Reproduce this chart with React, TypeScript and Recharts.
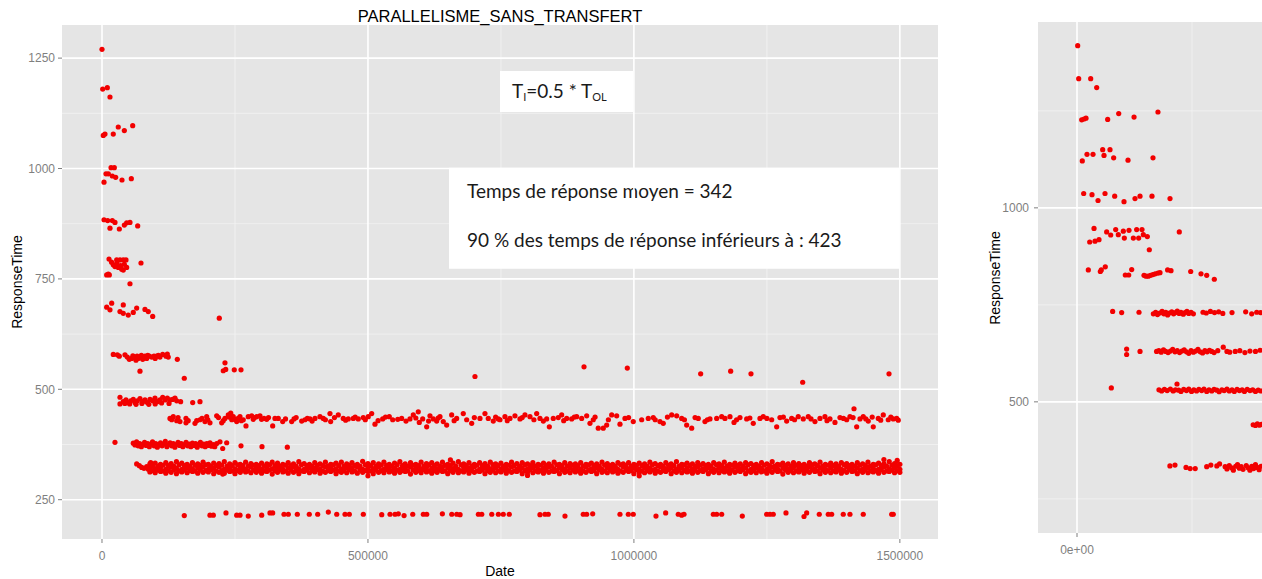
import React from "react";
import {
  ScatterChart,
  Scatter,
  XAxis,
  YAxis,
  CartesianGrid,
  ReferenceLine,
  ReferenceArea,
} from "recharts";

// x values are in thousands (Date), y is ResponseTime

const leftEarly: number[][] = [
  [0, 1270], [1.3, 1180], [10, 1183], [15, 1162], [2.4, 1075], [5.6, 1078], [21.2, 1078], [30.6, 1094], [42, 1086], [57.7, 1097],
  [17, 1002], [23.2, 1002], [7.5, 988], [11.9, 988], [19.4, 983], [25.7, 980], [37.6, 974], [55.1, 977], [3.8, 969],
  [3.8, 884], [10.7, 882], [19.4, 882], [24.4, 878], [15, 865], [32.6, 863], [42, 872], [46.4, 877], [52.6, 878], [67.1, 870],
  [13.2, 795], [27.6, 793], [33.8, 793], [40, 793], [45.1, 793], [21.2, 782], [24.4, 778], [30.6, 776], [37, 772], [46.4, 776],
  [73.3, 786], [8.8, 759], [13.8, 759], [11.9, 761], [40, 770], [52.6, 739], [28, 786], [35, 780], [42, 783], [18, 788],
  [8.8, 686], [18.2, 695], [15, 680], [33.8, 676], [40, 672], [49.4, 668], [58.8, 674], [65.2, 684], [40, 691], [80.8, 681],
  [87, 676], [95.3, 665], [220.5, 661],
];

const band570: number[][] = [
  [21.2, 579], [28.8, 578], [32.5, 575], [43.2, 578], [47.6, 573], [51.3, 568], [55.8, 570], [60.2, 573], [63.9, 566], [68.2, 570],
  [72.8, 573], [76.5, 568], [80.8, 575], [84, 570], [88.9, 575], [93.4, 573], [97.8, 575], [102.8, 575], [109, 573], [114.1, 579],
  [120.3, 575], [124.6, 573], [122.8, 580], [58, 576], [66, 575], [74, 577], [86, 577], [100, 570], [106, 577],
  [71.4, 541], [141.6, 568], [154.7, 525], [231.2, 560], [228, 542], [232.6, 545], [248.7, 544], [261.3, 544],
];

const band470: number[][] = [
  [33.8, 482], [33.8, 467], [40, 472], [45.1, 476], [49.4, 470], [54, 474], [58.8, 477], [62, 470], [66.4, 474], [71.4, 479],
  [76.5, 472], [80.8, 476], [85.2, 470], [90.2, 477], [95.3, 474], [99.6, 480], [104, 472], [109, 476], [114.1, 482], [118.4, 476],
  [122.8, 480], [127.8, 476], [132.9, 477], [137.2, 480], [140.4, 474], [147.8, 472], [170.5, 470], [184.2, 472],
  [43, 468], [52, 467], [64, 466], [75, 468], [88, 466], [100, 467], [112, 469], [126, 468],
];

const band430: number[][] = [
  [127.8, 434], [134, 438], [140.4, 429], [146.6, 427], [157.9, 434], [157.9, 424], [174.8, 423], [178, 429], [184.2, 431], [193.6, 427],
  [196.8, 438], [203, 424], [215.6, 440], [225, 424], [231.2, 434], [237.4, 442], [242, 446], [246.8, 438], [250, 432], [253.2, 427],
  [259.4, 438], [265.6, 431], [270.7, 417], [275, 438], [281.4, 440], [284.4, 432], [290.8, 438], [297, 440], [304.6, 434], [309.6, 432],
  [320.9, 417], [325.2, 434], [331.4, 434], [339.7, 427], [356.6, 427], [361, 433], [375.4, 428], [381.6, 431], [391, 433], [400.4, 434],
  [409.8, 438], [416, 434], [428.6, 445], [429.9, 427], [444.2, 442], [453.6, 434], [463, 433], [472.4, 434], [481.8, 433], [491.2, 436],
  [500.6, 438], [507, 445], [513.2, 421], [527.7, 433], [540.1, 438], [546.5, 431], [563.4, 434], [571.5, 428], [579, 433], [585.2, 442],
  [594.6, 449], [596.5, 425], [602.9, 433], [610.4, 415], [616.6, 440], [622.8, 433], [629.2, 428], [635.4, 438], [641.6, 427], [648, 419],
  [657.4, 442], [666.8, 434], [679.2, 445], [685.6, 431], [695, 423], [710.6, 434], [720, 445], [726.2, 434], [735.6, 428], [745, 433],
  [748.2, 431], [757.6, 438], [767, 434], [776.4, 440], [785.8, 433], [795.2, 442], [804.6, 438], [817.2, 445], [823.4, 434], [829.7, 428],
  [841, 415], [848.4, 434], [857.8, 436], [864.2, 442], [873.6, 434], [883, 433], [892.4, 438], [901.8, 434], [911.2, 440], [917.4, 423],
  [923.6, 431], [933, 412], [942.4, 412], [948.8, 419], [958.2, 442], [967.6, 440], [973.8, 421], [983.2, 434], [998.8, 427], [1014.6, 431],
  [1027, 434], [1036.4, 436], [1049, 427], [1055.2, 423], [1071, 442], [1080.4, 440], [1089.8, 434], [1099.2, 419], [1108.6, 412], [1121, 434],
  [1133.6, 427], [1143, 433], [1155.6, 434], [1171.2, 434], [1180.6, 438], [1188.2, 425], [1199.4, 436], [1212, 433], [1224.4, 423], [1237, 434],
  [1243.2, 438], [1259, 431], [1268.4, 415], [1274.6, 436], [1287.2, 428], [1296.6, 434], [1309, 438], [1318.4, 433], [1327.8, 438], [1340.4, 427],
  [1349.8, 434], [1359.2, 438], [1368.6, 433], [1378, 425], [1387.4, 436], [1400, 431], [1406.2, 438], [1418.8, 415], [1425, 433], [1431.2, 438],
  [1440.6, 428], [1450, 415], [1459.4, 434], [1468.8, 442], [1478.2, 431], [1487.6, 433], [1494, 434],
];

const band430More: number[][] = [
  [131, 431], [143, 436], [162, 429], [188, 434], [199, 431], [219, 436], [228, 429], [239, 437], [244, 431], [256, 434],
  [262, 429], [287, 436], [300, 432], [313, 436], [345, 433], [365, 436], [386, 434], [395, 428], [420, 431], [437, 436],
  [458, 430], [476, 437], [495, 431], [519, 429], [533, 437], [556, 432], [590, 435], [614, 428], [632, 435], [662, 429],
  [700, 436], [740, 437], [762, 429], [790, 436], [812, 431], [836, 433], [868, 429], [888, 437], [927, 437], [952, 431],
  [990, 436], [1040, 431], [1063, 437], [1095, 431], [1115, 436], [1138, 431], [1165, 438], [1193, 431], [1218, 435], [1250, 434],
  [1281, 437], [1302, 431], [1333, 433], [1363, 429], [1394, 434], [1412, 436], [1436, 433], [1448, 437], [1464, 430], [1483, 437],
  [1497, 430],
];

const band375: number[][] = [
  [24.4, 380], [58.8, 378], [62, 374], [65, 381], [68, 372], [71, 377], [74, 370], [77, 375], [80, 380], [83, 373],
  [86, 377], [89, 370], [92, 376], [95, 381], [98, 372], [101, 377], [104, 369], [107, 375], [110, 379], [113, 372],
  [116, 376], [119, 382], [122, 370], [125, 375], [128, 379], [131, 372], [134, 377], [137, 369], [140, 375], [143, 380],
  [146, 373], [149, 377], [152, 370], [155, 375], [158, 380], [161, 372], [164, 376], [167, 370], [170, 378], [173, 373],
  [176, 377], [179, 369], [182, 375], [185, 380], [188, 372], [191, 376], [194, 370], [197, 377], [200, 373], [203, 379],
  [206, 371], [209, 375], [212, 370], [215.6, 377], [221.8, 381], [234.4, 379], [226.9, 366], [261.3, 372], [300.8, 370], [348.4, 369],
];

// dense band around 320: [x, low, mid, high]
const band320: number[][] = [
  [90, 313, 322, 331], [100, 311, 320, 333], [110, 314, 323, 330], [120, 310, 319, 334], [130, 312, 324, 332], [140, 309, 321, 336], [150, 313, 319, 333], [160, 311, 323, 330], [170, 314, 320, 334], [180, 310, 322, 331],
  [190, 312, 324, 335], [200, 313, 319, 330], [210, 309, 321, 333], [220, 312, 324, 332], [230, 310, 319, 336], [240, 314, 322, 331], [250, 309, 320, 334], [260, 312, 323, 330], [270, 313, 319, 335], [280, 311, 324, 332],
  [290, 312, 321, 330], [300, 310, 319, 333], [310, 314, 322, 331], [320, 308, 320, 335], [330, 312, 323, 333], [340, 313, 319, 330], [350, 310, 322, 334], [360, 312, 324, 331], [370, 309, 320, 336], [380, 314, 319, 332],
  [390, 311, 323, 330], [400, 313, 321, 334], [410, 310, 319, 331], [420, 312, 324, 335], [430, 314, 322, 330], [440, 309, 320, 333], [450, 312, 319, 335], [460, 311, 323, 331], [470, 313, 321, 334], [480, 310, 324, 330],
  [490, 312, 319, 337], [500, 314, 322, 332], [510, 309, 320, 334], [520, 312, 324, 331], [530, 311, 319, 335], [540, 313, 323, 330], [550, 310, 321, 333], [560, 312, 319, 336], [570, 314, 322, 331], [580, 308, 324, 334],
  [590, 312, 320, 330], [600, 311, 319, 335], [610, 313, 323, 332], [620, 310, 321, 334], [630, 312, 319, 331], [640, 314, 324, 335], [650, 309, 322, 330], [660, 312, 320, 333], [670, 311, 319, 336], [680, 313, 323, 331],
  [690, 310, 321, 334], [700, 312, 324, 330], [710, 314, 319, 334], [720, 309, 322, 332], [730, 312, 320, 335], [740, 311, 323, 331], [750, 313, 319, 333], [760, 310, 321, 330], [770, 312, 324, 335], [780, 314, 319, 332],
  [790, 309, 322, 334], [800, 312, 320, 331], [810, 311, 323, 334], [820, 313, 319, 330], [830, 310, 321, 333], [840, 312, 324, 331], [850, 314, 320, 335], [860, 309, 322, 330], [870, 312, 319, 334], [880, 311, 323, 332],
  [890, 313, 321, 331], [900, 310, 319, 334], [910, 312, 324, 330], [920, 314, 320, 333], [930, 309, 322, 331], [940, 312, 319, 335], [950, 311, 323, 332], [960, 313, 321, 330], [970, 310, 319, 334], [980, 312, 324, 331],
  [990, 314, 320, 334], [1000, 309, 322, 330], [1010, 312, 319, 333], [1020, 311, 323, 331], [1030, 313, 321, 335], [1040, 310, 319, 332], [1050, 312, 324, 330], [1060, 314, 320, 334], [1070, 309, 322, 331], [1080, 312, 319, 336],
  [1090, 311, 323, 330], [1100, 313, 321, 333], [1110, 310, 319, 331], [1120, 312, 324, 334], [1130, 314, 320, 332], [1140, 309, 322, 330], [1150, 312, 319, 334], [1160, 311, 323, 331], [1170, 313, 321, 335], [1180, 310, 319, 330],
  [1190, 312, 324, 333], [1200, 314, 320, 331], [1210, 309, 322, 334], [1220, 312, 319, 332], [1230, 311, 323, 330], [1240, 313, 321, 334], [1250, 310, 319, 331], [1260, 312, 324, 336], [1270, 314, 320, 330], [1280, 308, 322, 333],
  [1290, 312, 319, 331], [1300, 311, 323, 334], [1310, 313, 321, 332], [1320, 310, 319, 330], [1330, 312, 324, 334], [1340, 314, 320, 331], [1350, 309, 322, 335], [1360, 312, 319, 330], [1370, 311, 323, 333], [1380, 313, 321, 331],
  [1390, 310, 319, 334], [1400, 312, 324, 332], [1410, 314, 320, 330], [1420, 309, 322, 334], [1430, 312, 319, 331], [1440, 311, 323, 335], [1450, 313, 321, 330], [1460, 310, 319, 333], [1470, 312, 324, 331], [1480, 314, 320, 336],
  [1490, 311, 322, 332], [1500, 312, 319, 330],
];

// second, offset set of columns in the dense band: [x, low, high]
const band320b: number[][] = [
  [95, 316, 327], [105, 317, 326], [115, 315, 328], [125, 316, 327], [135, 318, 326], [145, 315, 329], [155, 317, 327], [165, 316, 326], [175, 315, 328], [185, 317, 327],
  [195, 316, 329], [205, 318, 326], [215, 315, 327], [225, 316, 328], [235, 317, 326], [245, 315, 327], [255, 316, 329], [265, 318, 327], [275, 315, 326], [285, 317, 328],
  [295, 316, 327], [305, 315, 326], [315, 317, 329], [325, 316, 327], [335, 318, 326], [345, 315, 328], [355, 317, 327], [365, 316, 326], [375, 315, 329], [385, 317, 327],
  [395, 316, 326], [405, 318, 328], [415, 315, 327], [425, 316, 326], [435, 317, 329], [445, 315, 327], [455, 316, 326], [465, 318, 328], [475, 315, 327], [485, 317, 326],
  [495, 316, 329], [505, 315, 327], [515, 317, 326], [525, 316, 328], [535, 318, 327], [545, 315, 326], [555, 317, 329], [565, 316, 327], [575, 315, 326], [585, 317, 328],
  [595, 316, 327], [605, 318, 326], [615, 315, 329], [625, 316, 327], [635, 317, 326], [645, 315, 328], [655, 316, 327], [665, 318, 326], [675, 315, 329], [685, 317, 327],
  [695, 316, 326], [705, 315, 328], [715, 317, 327], [725, 316, 326], [735, 318, 329], [745, 315, 327], [755, 317, 326], [765, 316, 328], [775, 315, 327], [785, 317, 326],
  [795, 316, 329], [805, 318, 327], [815, 315, 326], [825, 316, 328], [835, 317, 327], [845, 315, 326], [855, 316, 329], [865, 318, 327], [875, 315, 326], [885, 317, 328],
  [895, 316, 327], [905, 315, 326], [915, 317, 329], [925, 316, 327], [935, 318, 326], [945, 315, 328], [955, 317, 327], [965, 316, 326], [975, 315, 329], [985, 317, 327],
  [995, 316, 326], [1005, 318, 328], [1015, 315, 327], [1025, 316, 326], [1035, 317, 329], [1045, 315, 327], [1055, 316, 326], [1065, 318, 328], [1075, 315, 327], [1085, 317, 326],
  [1095, 316, 329], [1105, 315, 327], [1115, 317, 326], [1125, 316, 328], [1135, 318, 327], [1145, 315, 326], [1155, 317, 329], [1165, 316, 327], [1175, 315, 326], [1185, 317, 328],
  [1195, 316, 327], [1205, 318, 326], [1215, 315, 329], [1225, 316, 327], [1235, 317, 326], [1245, 315, 328], [1255, 316, 327], [1265, 318, 326], [1275, 315, 329], [1285, 317, 327],
  [1295, 316, 326], [1305, 315, 328], [1315, 317, 327], [1325, 316, 326], [1335, 318, 329], [1345, 315, 327], [1355, 317, 326], [1365, 316, 328], [1375, 315, 327], [1385, 317, 326],
  [1395, 316, 329], [1405, 318, 327], [1415, 315, 326], [1425, 316, 328], [1435, 317, 327], [1445, 315, 326], [1455, 316, 329], [1465, 318, 327], [1475, 315, 326], [1485, 317, 328],
  [1495, 316, 327],
];

const band320Extra: number[][] = [
  [65.2, 331], [70.2, 327], [74.6, 323], [79, 321], [84, 325], [87, 319], [91.6, 334],
  [227, 308], [500, 304], [655, 340], [800, 305], [1010, 304], [1470, 341], [1495, 339],
];

const band215: number[][] = [
  [154.7, 214], [203, 215], [209.3, 215], [233.1, 220], [253.2, 215], [259.4, 215], [275, 213], [300.2, 215], [315.8, 220], [320.9, 220],
  [342.2, 217], [350.3, 217], [367.2, 217], [389.7, 217], [405.5, 217], [425.5, 222], [441.3, 217], [456.9, 217], [465, 217], [491.3, 217],
  [525.9, 216], [541.5, 217], [550.9, 217], [557.1, 218], [567.9, 214], [584.2, 217], [604.1, 217], [610.5, 217], [639.9, 218], [657.6, 217],
  [667, 217], [673.2, 216], [707.6, 217], [714, 217], [732.8, 217], [745.2, 217], [754.4, 217], [765.7, 217], [823.4, 216], [832.8, 217],
  [839, 217], [870.4, 213], [904.8, 217], [911.2, 217], [922.5, 218], [973.8, 217], [989.5, 217], [998.8, 217], [1041.5, 213], [1059.7, 220],
  [1083.4, 217], [1089.8, 215], [1094.2, 217], [1149.3, 217], [1155.6, 217], [1165, 217], [1203.8, 213], [1249.6, 217], [1255.8, 217], [1262, 217],
  [1285.9, 220], [1319.8, 212], [1324.8, 220], [1348.5, 217], [1365.4, 217], [1371.8, 217], [1393.6, 217], [1406.2, 217], [1431.2, 217], [1484.6, 217],
  [1487.6, 217],
];

const outliers: number[][] = [
  [701.2, 529], [906.2, 551], [987.6, 548], [1125.5, 535], [1181.9, 541], [1220.1, 535], [1317.3, 516], [1479.6, 535], [1413.8, 456],
];

// right (cropped) panel
const rightEarly: number[][] = [
  [1.5, 1418], [3.7, 1333], [29.8, 1333], [42.8, 1310], [10.2, 1227], [15.2, 1229], [19.6, 1231], [66.7, 1228], [90.7, 1243], [124, 1234], [176, 1247],
  [11.5, 1121], [21.7, 1138], [34.8, 1138], [55.8, 1150], [71.7, 1150], [58.7, 1135], [79.7, 1129], [110.9, 1123], [165.2, 1129],
  [14.5, 1037], [32.6, 1034], [45.7, 1019], [60.9, 1037], [81.9, 1030], [102.2, 1016], [126.1, 1024], [137, 1030], [163, 1030], [202.2, 1024],
  [37, 947], [27.6, 912], [39.1, 914], [47.8, 918], [64.5, 938], [73.3, 930], [84.1, 944], [89.8, 931], [100.7, 940], [102.9, 922],
  [113, 942], [122.5, 922], [129.7, 944], [134.1, 922], [141.3, 944], [144.2, 931], [152.9, 926], [157.2, 892], [222.4, 938],
  [24.6, 840], [50.7, 836], [52.8, 840], [61.5, 848], [105, 827], [112.4, 827], [118.9, 841], [145.7, 826], [150, 824], [155, 824],
  [160, 826], [165, 828], [170, 830], [176, 832], [180.4, 833], [197, 840], [204.4, 838], [247.2, 836], [269.6, 830], [282, 826], [298.5, 816],
];

const right730: number[][] = [
  [77.5, 733], [97.1, 730], [134.8, 731], [166, 727], [171, 731], [175, 725], [180, 729], [185, 733], [189, 727], [193, 731],
  [197, 724], [201, 729], [206, 732], [210, 727], [214, 730], [218, 734], [222, 728], [226, 731], [231, 726], [235, 730],
  [239, 733], [243, 728], [248, 731], [253, 727], [274, 731], [281, 729], [290, 733], [299, 730], [308, 732], [317, 728],
  [337, 730], [366.7, 732], [379.8, 727], [390.7, 731], [399, 730],
];

const right630: number[][] = [
  [107.9, 636], [107.9, 622], [137, 630], [173, 630], [178, 632], [183, 628], [188, 634], [193, 630], [198, 627], [203, 631],
  [208, 635], [213, 629], [218, 632], [223, 627], [228, 631], [233, 634], [238, 629], [243, 625], [248, 632], [253, 628],
  [258, 631], [263, 635], [268, 629], [273, 626], [278, 632], [283, 629], [288, 633], [293, 630], [298, 627], [306, 632],
  [318, 641], [326, 630], [332, 628], [344, 630], [354, 632], [365, 627], [376, 631], [388, 630], [398, 633],
];

const right530: number[][] = [
  [74.6, 536], [178.2, 531], [184, 528], [190, 532], [196, 529], [203, 533], [209, 528], [214, 531], [217.4, 546], [221, 530],
  [226, 527], [232, 532], [238, 529], [243, 533], [249, 527], [254, 531], [260, 528], [265, 532], [271, 529], [276, 533],
  [282, 527], [287, 531], [293, 528], [298, 532], [304, 530], [309, 526], [315, 531], [320, 529], [326, 533], [331, 528],
  [337, 531], [342, 527], [348, 532], [353, 529], [359, 531], [364, 527], [370, 532], [376, 529], [382, 531], [388, 527],
  [394, 530], [400, 528],
];

const right440: number[][] = [
  [383, 441], [388, 439], [392, 443], [397, 440], [401, 442],
];

const right335: number[][] = [
  [202, 335], [213, 337], [237, 331], [246, 328], [257, 328], [282, 333], [291, 337], [304, 335], [310, 340], [322, 333],
  [326, 327], [331, 336], [336, 330], [340, 324], [345, 334], [349, 338], [353, 329], [357, 333], [361, 326], [368, 336],
  [372, 330], [376, 324], [380, 334], [384, 328], [388, 338], [392, 331], [396, 325], [400, 334],
];

const leftXTicks = [0, 500000, 1000000, 1500000];
const leftXMinor = [250000, 750000, 1250000];
const leftYTicks = [250, 500, 750, 1000, 1250];
const leftYMinor = [375, 625, 875, 1125];
const rightXTicks = [0];
const rightXMinor = [250000];
const rightYTicks = [500, 1000];
const rightYMinor = [250, 750, 1250];

const toPts = (rows: number[][]) =>
  rows.flatMap(([x, ...ys]) => ys.map((y) => ({ x: x * 1000, y })));

const leftData = [
  ...toPts(leftEarly),
  ...toPts(band570),
  ...toPts(band470),
  ...toPts(band430),
  ...toPts(band430More),
  ...toPts(band375),
  ...toPts(band320),
  ...toPts(band320b),
  ...toPts(band320Extra),
  ...toPts(band215),
  ...toPts(outliers),
];

const rightData = [
  ...toPts(rightEarly),
  ...toPts(right730),
  ...toPts(right630),
  ...toPts(right530),
  ...toPts(right440),
  ...toPts(right335),
];

const RED = "#F20000";
const Dot = (p: any) => <circle cx={p.cx} cy={p.cy} r={2.6} fill={RED} />;

const tickStyle = { fill: "#7F7F7F", fontSize: 12, fontFamily: "Liberation Sans, Arial, sans-serif" };
const tickLine = { stroke: "#7F7F7F" };

const statsLabel = (props: any) => {
  const vb = props.viewBox;
  const st = { fontFamily: "Lato, sans-serif", fontSize: 19, fill: "#1a1a1a" };
  return (
    <g>
      <text x={vb.x + 18} y={vb.y + 30} style={st}>Temps de réponse moyen = 342</text>
      <text x={vb.x + 18} y={vb.y + 79} style={st}>90 % des temps de réponse inférieurs à : 423</text>
    </g>
  );
};

const ratioLabel = (props: any) => {
  const vb = props.viewBox;
  return (
    <text x={vb.x + 12} y={vb.y + 27} style={{ fontFamily: "Lato, sans-serif", fontSize: 19, fill: "#1a1a1a" }}>
      T<tspan fontSize={11} dy={3}>I</tspan>
      <tspan dy={-3}>=0.5 * T</tspan>
      <tspan fontSize={11} dy={3}>OL</tspan>
    </text>
  );
};

export default function App() {
  return (
    <div style={{ position: "absolute", left: 0, top: 0, width: 1262, height: 579, background: "#fff", overflow: "hidden" }}>
      <div style={{ position: "absolute", left: 0, top: 0 }}>
        <ScatterChart width={945} height={579} margin={{ top: 25, right: 7, bottom: 0, left: 0 }}>
          <CartesianGrid
            fill="#E5E5E5"
            stroke="#F2F2F2"
            strokeWidth={0.8}
            horizontalValues={leftYMinor}
            verticalValues={leftXMinor}
          />
          {leftXTicks.map((v) => (
            <ReferenceLine key={"vx" + v} x={v} stroke="#fff" strokeWidth={1.6} />
          ))}
          {leftYTicks.map((v) => (
            <ReferenceLine key={"hy" + v} y={v} stroke="#fff" strokeWidth={1.6} />
          ))}
          <XAxis
            dataKey="x"
            type="number"
            domain={[-75200, 1571700]}
            ticks={leftXTicks}
            allowDataOverflow
            axisLine={false}
            tickLine={tickLine}
            tickSize={4}
            tickMargin={8}
            tick={tickStyle}
            height={40}
            tickFormatter={(v: number) => String(v)}
          />
          <YAxis
            dataKey="y"
            type="number"
            domain={[161, 1325]}
            ticks={leftYTicks}
            allowDataOverflow
            axisLine={false}
            tickLine={tickLine}
            tickSize={4}
            tickMargin={3}
            tick={tickStyle}
            width={62}
          />
          <ReferenceArea x1={748200} x2={998300} y1={1128} y2={1221} fill="#fff" fillOpacity={1} stroke="none" label={ratioLabel} />
          <ReferenceArea x1={652400} x2={1498400} y1={773} y2={1001.5} fill="#fff" fillOpacity={1} stroke="none" label={statsLabel} />
          <Scatter data={leftData} shape={Dot} isAnimationActive={false} />
        </ScatterChart>
      </div>
      <div style={{ position: "absolute", left: 950, top: 0 }}>
        <ScatterChart width={312} height={579} margin={{ top: 22, right: 0, bottom: 0, left: 0 }}>
          <CartesianGrid
            fill="#E5E5E5"
            stroke="#F2F2F2"
            strokeWidth={0.8}
            horizontalValues={rightYMinor}
            verticalValues={rightXMinor}
          />
          {rightXTicks.map((v) => (
            <ReferenceLine key={"rvx" + v} x={v} stroke="#fff" strokeWidth={1.6} />
          ))}
          {rightYTicks.map((v) => (
            <ReferenceLine key={"rhy" + v} y={v} stroke="#fff" strokeWidth={1.6} />
          ))}
          <XAxis
            dataKey="x"
            type="number"
            domain={[-84800, 402200]}
            ticks={rightXTicks}
            allowDataOverflow
            axisLine={false}
            tickLine={tickLine}
            tickSize={4}
            tickMargin={8}
            tick={tickStyle}
            height={46}
            tickFormatter={() => "0e+00"}
          />
          <YAxis
            dataKey="y"
            type="number"
            domain={[162, 1479]}
            ticks={rightYTicks}
            allowDataOverflow
            axisLine={false}
            tickLine={tickLine}
            tickSize={4}
            tickMargin={5}
            tick={tickStyle}
            width={88}
          />
          <Scatter data={rightData} shape={Dot} isAnimationActive={false} />
        </ScatterChart>
      </div>
      <svg width={1262} height={579} style={{ position: "absolute", left: 0, top: 0, pointerEvents: "none" }}>
        <g style={{ fontFamily: "Liberation Sans, Arial, sans-serif", fill: "#000" }}>
          <text x={500} y={22} textAnchor="middle" fontSize={16.5}>PARALLELISME_SANS_TRANSFERT</text>
          <text x={500} y={576} textAnchor="middle" fontSize={14}>Date</text>
          <text transform="translate(22,282) rotate(-90)" textAnchor="middle" fontSize={14}>ResponseTime</text>
          <text transform="translate(1000,278) rotate(-90)" textAnchor="middle" fontSize={14}>ResponseTime</text>
        </g>
      </svg>
    </div>
  );
}
